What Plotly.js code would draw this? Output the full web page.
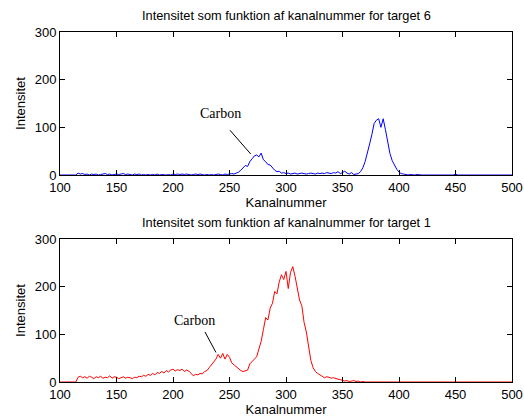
<!DOCTYPE html>
<html>
<head>
<meta charset="utf-8">
<script src="https://cdn.plot.ly/plotly-3.0.1.min.js"></script>
<style>html,body{margin:0;padding:0;background:#fff;}#chart{width:524px;height:418px;}</style>
</head>
<body>
<div id="chart"></div>
<script>
// Channel numbers (every 2nd channel, 100..500)
const channels = [];
for (let c = 100; c <= 500; c += 2) channels.push(c);

// Target 6 intensities (blue), one value per channel above
const target6 = [
  0,0,0,0,0,0,0,0,            // 100-114
  4,2,3,1,2,0,2,1,2,0,        // 116-134
  1,2,3,1,2,0,1,2,1,2,        // 136-154
  3,1,2,1,0,2,1,2,0,1,        // 156-174
  0,1,0,1,0,2,0,1,0,0,        // 176-194
  1,0,2,1,2,1,2,1,2,1,        // 196-214
  0,1,2,1,2,1,0,1,0,1,        // 216-234
  0,1,2,1,0,2,1,2,3,2,        // 236-254
  4,6,10,14,20,18,28,34,40,42,// 256-274
  38,46,32,28,22,21,15,10,7,8,// 276-294
  4,5,3,4,2,3,4,2,3,4,        // 296-314
  3,2,3,4,3,2,4,3,4,3,        // 316-334
  5,4,3,5,4,7,3,5,8,4,        // 336-354
  2,5,1,2,3,7,15,28,45,65,    // 356-374
  85,108,115,118,100,118,95,68,45,30, // 376-394
  20,12,6,3,2,1,0,1,0,0,      // 396-414
  1,0,0,0,0,0,0,0,0,0,        // 416-434
  0,0,0,0,0,0,0,2,0,0,        // 436-454
  0,0,0,0,0,1,0,0,0,0,        // 456-474
  0,0,0,1,0,0,0,0,0,0,        // 476-494
  0,0,0                       // 496-500
];

// Target 1 intensities (red)
const target1 = [
  0,0,0,0,0,0,0,0,               // 100-114
  10,12,9,11,8,12,10,7,11,9,     // 116-134
  12,8,10,9,13,8,11,10,7,9,      // 136-154
  11,8,10,9,7,10,9,12,11,14,     // 156-174
  12,16,14,18,15,20,18,22,19,24, // 176-194
  21,25,27,23,26,24,27,22,25,23, // 196-214
  18,13,16,15,18,17,22,24,30,36, // 216-234
  40,48,58,50,60,48,58,52,40,36, // 236-254
  30,26,24,22,24,25,38,42,48,53, // 256-274
  70,85,110,135,130,155,165,190,185,210, // 276-294
  225,215,232,196,230,242,222,200,172,160, // 296-314
  125,105,75,45,30,22,18,14,12,9,  // 316-334
  11,10,8,9,7,6,5,3,2,3,          // 336-354
  1,2,3,1,2,0,1,0,0,0,            // 356-374
  0,0,0,0,0,0,0,0,0,0,            // 376-394
  0,0,0,0,0,0,0,0,0,0,            // 396-414
  0,0,0,0,0,0,0,0,0,0,            // 416-434
  0,0,0,0,0,0,0,0,0,0,            // 436-454
  0,0,0,0,0,0,0,0,0,0,            // 456-474
  0,0,0,0,0,0,0,0,0,0,            // 476-494
  0,0,0                           // 496-500
];

const xTicks = [100,150,200,250,300,350,400,450,500];
const yTicks = [0,100,200,300];
const titleTop = "Intensitet som funktion af kanalnummer for target 6";
const titleBottom = "Intensitet som funktion af kanalnummer for target 1";
const xLabel = "Kanalnummer";
const yLabel = "Intensitet";
const noteText = "Carbon";

const FONT = "Arial, 'Liberation Sans', sans-serif";

function xax(anchor) {
  return {
    domain: [60/524, 512/524], anchor: anchor, range: [100, 500],
    tickvals: xTicks, ticks: "inside", ticklen: 5, tickcolor: "#000",
    showline: true, linecolor: "#000", linewidth: 1, mirror: "ticks",
    showgrid: false, zeroline: false,
    tickfont: {family: FONT, size: 13, color: "#000"},
    title: {text: xLabel, font: {family: FONT, size: 13, color: "#000"}, standoff: 2}
  };
}
function yax(anchor, dom) {
  return {
    domain: dom, anchor: anchor, range: [0, 300],
    tickvals: yTicks, ticks: "inside", ticklen: 5, tickcolor: "#000",
    showline: true, linecolor: "#000", linewidth: 1, mirror: "ticks",
    showgrid: false, zeroline: false,
    tickfont: {family: FONT, size: 13, color: "#000"},
    title: {text: yLabel, font: {family: FONT, size: 13, color: "#000"}, standoff: 6}
  };
}

const data = [
  {x: channels, y: target6, type: "scatter", mode: "lines", line: {color: "#0000ff", width: 1}, xaxis: "x", yaxis: "y", hoverinfo: "skip"},
  {x: channels, y: target1, type: "scatter", mode: "lines", line: {color: "#ff0000", width: 1}, xaxis: "x2", yaxis: "y2", hoverinfo: "skip"}
];

const layout = {
  width: 524, height: 418,
  margin: {l: 0, r: 0, t: 0, b: 0},
  paper_bgcolor: "#fff", plot_bgcolor: "#fff",
  showlegend: false,
  xaxis: xax("y"),
  yaxis: yax("x", [1-175/418, 1-32/418]),
  xaxis2: xax("y2"),
  yaxis2: yax("x2", [1-382/418, 1-239/418]),
  shapes: [
    {type: "line", xref: "x", yref: "y", x0: 250.4, y0: 94, x1: 268.8, y1: 44, line: {color: "#000", width: 1}},
    {type: "line", xref: "x2", yref: "y2", x0: 228.3, y0: 105, x1: 238, y1: 62, line: {color: "#000", width: 1}}
  ],
  annotations: [
    {text: titleTop, xref: "paper", yref: "paper", x: 286/524, y: 1-16/418, xanchor: "center", yanchor: "middle", showarrow: false, font: {family: FONT, size: 12.8, color: "#000"}},
    {text: titleBottom, xref: "paper", yref: "paper", x: 286/524, y: 1-223/418, xanchor: "center", yanchor: "middle", showarrow: false, font: {family: FONT, size: 12.8, color: "#000"}},
    {text: noteText, xref: "x", yref: "y", x: 241.6, y: 130, xanchor: "center", yanchor: "middle", showarrow: false, font: {family: "'Times New Roman', 'Liberation Serif', serif", size: 14, color: "#000"}},
    {text: noteText, xref: "x2", yref: "y2", x: 218.9, y: 128, xanchor: "center", yanchor: "middle", showarrow: false, font: {family: "'Times New Roman', 'Liberation Serif', serif", size: 14, color: "#000"}}
  ]
};

Plotly.newPlot("chart", data, layout, {staticPlot: true, displayModeBar: false});
</script>
</body>
</html>
